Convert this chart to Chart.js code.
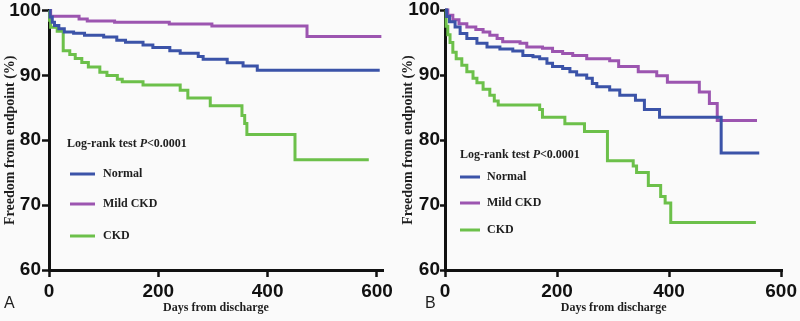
<!DOCTYPE html>
<html><head><meta charset="utf-8">
<script src="https://cdn.jsdelivr.net/npm/chart.js@4.4.1/dist/chart.umd.min.js"></script>
<style>
html,body{margin:0;padding:0;background:#fafafa;}
#wrap{position:relative;width:800px;height:321px;overflow:hidden;}
.panel{position:absolute;top:0;width:400px;height:321px;}
canvas{display:block;}
</style></head><body>
<div id="wrap">
<div class="panel" style="left:0"><canvas id="cA" width="400" height="321"></canvas></div>
<div class="panel" style="left:400px"><canvas id="cB" width="400" height="321"></canvas></div>
</div>
<script>
// ---------- data ----------
const seriesNames = ['Normal', 'Mild CKD', 'CKD'];
const xTickValues = [0, 200, 400, 600];
const yTickValues = [60, 70, 80, 90, 100];
const xTitle = 'Days from discharge';
const yTitle = 'Freedom from endpoint (%)';
const logRankLabel = ['Log-rank test ', 'P', '<0.0001'];

// Panel A
const aNormalDays = [0,2,6,10,18,28,45,65,100,124,140,172,190,221,240,273,282,326,355,381,605];
const aNormalVals = [100,99.0,98.2,97.7,97.2,96.7,96.5,96.2,95.9,95.4,95.1,94.7,94.3,93.8,93.4,92.9,92.5,91.95,91.45,90.8,90.8];
const aMildDays = [0,3,55,70,120,220,298,472,608];
const aMildVals = [100,99.1,98.7,98.4,98.2,97.9,97.6,96.0,96.0];
const aCkdDays = [0,1,3,15,26,38,48,60,72,93,106,125,134,172,240,254,295,353,358,362,450,585];
const aCkdVals = [100,98.5,97.4,96.8,93.8,93.2,92.6,92.0,91.3,90.5,90.0,89.4,89.0,88.5,87.7,86.5,85.3,83.8,82.6,80.9,77.0,77.0];

// Panel B
const bNormalDays = [0,3,8,18,27,39,57,75,98,121,139,157,169,182,192,210,223,235,253,263,271,294,312,340,356,383,493,561];
const bNormalVals = [100,99.0,98.2,97.4,96.4,95.6,94.9,94.3,94.0,93.7,93.0,92.8,92.5,91.8,91.3,91.0,90.5,90.0,89.5,88.7,88.2,87.7,86.9,86.1,84.7,83.5,78.0,78.0];
const bMildDays = [0,5,14,25,39,55,68,80,93,103,134,146,174,192,210,228,253,294,310,345,378,397,454,472,486,557];
const bMildVals = [100,99.2,98.5,97.9,97.4,97.0,96.6,96.1,95.6,95.1,94.9,94.3,94.1,93.6,93.3,93.0,92.5,92.2,91.3,90.5,89.9,88.9,87.4,85.6,83.0,83.0];
const bCkdDays = [0,2,5,9,14,20,30,39,50,57,68,80,88,95,169,174,214,249,290,336,342,363,385,393,403,555];
const bCkdVals = [100,97.5,96.2,95.0,93.5,92.5,91.5,90.5,89.5,88.8,87.8,86.9,86.0,85.4,84.7,83.5,82.5,81.3,76.8,76.0,75.0,73.0,71.3,70.3,67.3,67.3];

const seriesColors = ['#3b53a8', '#9c55b0', '#6cc04a'];

// ---------- helpers ----------
function toPoints(days, vals){ return days.map((d,i)=>({x:d, y:vals[i]})); }

const overlay = {
  id: 'overlay',
  afterDraw(chart, args, o){
    const ctx = chart.ctx;
    ctx.save();
    ctx.fillStyle = '#1e1e1e';
    ctx.textBaseline = 'middle';
    ctx.textAlign = 'left';
    const f = 'bold 12px "Liberation Serif", "Times New Roman", serif';
    const fi = 'italic bold 12px "Liberation Serif", "Times New Roman", serif';
    let x = o.hx;
    ctx.font = f; ctx.fillText(logRankLabel[0], x, o.hy); x += ctx.measureText(logRankLabel[0]).width;
    ctx.font = fi; ctx.fillText(logRankLabel[1], x, o.hy); x += ctx.measureText(logRankLabel[1]).width;
    ctx.font = f; ctx.fillText(logRankLabel[2], x, o.hy);
    chart.data.datasets.forEach((ds, i) => {
      const y = o.ly[i];
      ctx.strokeStyle = ds.borderColor; ctx.lineWidth = 3;
      ctx.beginPath(); ctx.moveTo(o.lx0, y); ctx.lineTo(o.lx1, y); ctx.stroke();
      ctx.font = f; ctx.fillStyle = '#1e1e1e';
      ctx.fillText(ds.label, o.tx, y);
    });
    ctx.font = '16px "Liberation Sans", Arial, sans-serif';
    ctx.fillText(o.letter, o.px, o.py);
    ctx.restore();
  }
};

function makeChart(id, cfg){
  const datasets = cfg.series.map((s, i) => ({
    label: seriesNames[i],
    data: toPoints(s[0], s[1]),
    borderColor: seriesColors[i],
    backgroundColor: seriesColors[i],
    borderWidth: 3,
    pointRadius: 0,
    stepped: 'before',
    fill: false,
    clip: false
  }));
  return new Chart(document.getElementById(id), {
    type: 'line',
    data: { datasets },
    options: {
      responsive: false,
      animation: false,
      devicePixelRatio: 1,
      layout: { autoPadding: false, padding: { left: 0, top: 10, right: 17, bottom: 0 } },
      plugins: { legend: { display: false }, tooltip: { enabled: false }, overlay: cfg.overlay },
      scales: {
        x: {
          type: 'linear', min: 0, max: cfg.xMax,
          afterBuildTicks: s => { s.ticks = xTickValues.map(v => ({ value: v })); },
          afterFit: s => { s.height = 51; },
          grid: { drawOnChartArea: false, drawTicks: true, tickLength: 7, tickWidth: 2.5, tickColor: '#111' },
          border: { display: true, color: '#111', width: 3 },
          ticks: { color: '#111', padding: 3, maxRotation: 0, font: { family: '"Liberation Sans", Arial, sans-serif', size: 19, weight: 'bold' } },
          title: { display: true, text: xTitle, color: '#1e1e1e', padding: { top: 0, bottom: 6 }, font: { family: '"Liberation Serif", "Times New Roman", serif', size: 12, weight: 'bold' } }
        },
        y: {
          type: 'linear', min: 60, max: 100,
          afterBuildTicks: s => { s.ticks = yTickValues.map(v => ({ value: v })); },
          afterFit: s => { s.width = cfg.yWidth; },
          grid: { drawOnChartArea: false, drawTicks: true, tickLength: cfg.tickLen, tickWidth: 2.5, tickColor: '#111' },
          border: { display: true, color: '#111', width: 3 },
          ticks: { color: '#111', padding: cfg.tickPad, font: { family: '"Liberation Sans", Arial, sans-serif', size: 19, weight: 'bold', lineHeight: 1 } },
          title: { display: true, text: yTitle, color: '#1e1e1e', padding: { top: cfg.yTitlePad, bottom: 0 }, font: { family: '"Liberation Serif", "Times New Roman", serif', size: 14, weight: 'bold' } }
        }
      }
    },
    plugins: [overlay]
  });
}

makeChart('cA', {
  series: [[aNormalDays, aNormalVals], [aMildDays, aMildVals], [aCkdDays, aCkdVals]],
  xMax: 611, yWidth: 49, tickLen: 7, tickPad: 1, yTitlePad: 2,
  overlay: { hx: 67, hy: 144, lx0: 70, lx1: 95, tx: 103, ly: [174, 204, 236], letter: 'A', px: 4, py: 304 }
});
makeChart('cB', {
  series: [[bNormalDays, bNormalVals], [bMildDays, bMildVals], [bCkdDays, bCkdVals]],
  xMax: 602, yWidth: 45, tickLen: 5, tickPad: 0, yTitlePad: 0,
  overlay: { hx: 60, hy: 155, lx0: 60, lx1: 80, tx: 87, ly: [177, 203, 230], letter: 'B', px: 25, py: 304 }
});
</script>
</body></html>
